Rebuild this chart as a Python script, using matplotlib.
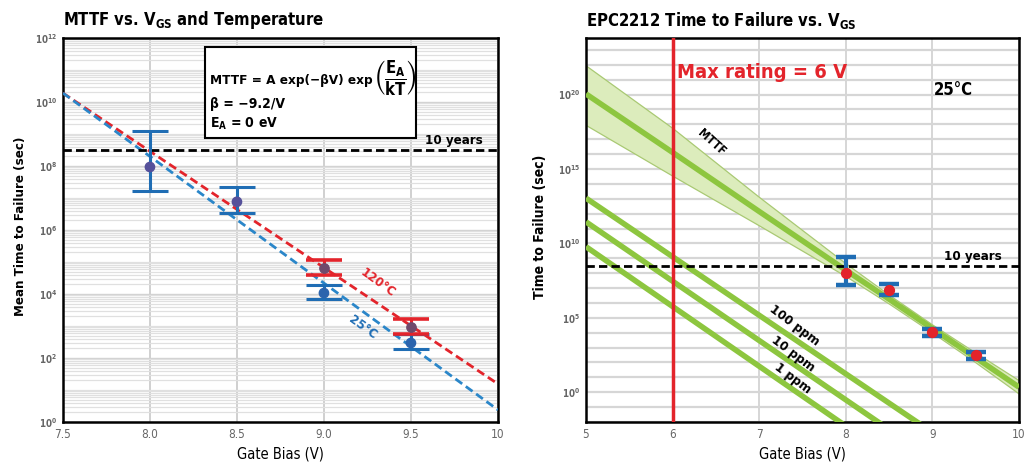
import matplotlib
matplotlib.use("Agg")
import matplotlib.pyplot as plt
from matplotlib.patches import Rectangle
import numpy as np

plt.rcParams['font.family'] = ['DejaVu Sans']
plt.rcParams['font.stretch'] = 'condensed'
plt.rcParams['font.weight'] = 'bold'
plt.rcParams['mathtext.fontset'] = 'custom'
plt.rcParams['mathtext.rm'] = 'DejaVu Sans:weight=bold:stretch=condensed'
plt.rcParams['mathtext.it'] = 'DejaVu Sans:weight=bold:stretch=condensed'
plt.rcParams['mathtext.bf'] = 'DejaVu Sans:weight=bold:stretch=condensed'
plt.rcParams['mathtext.fallback'] = 'stixsans'

# ---------------- data ----------------
# Left panel: MTTF vs VGS and temperature
v_25 = [8.0, 8.5, 9.0, 9.5]
mttf_25 = [9.3e7, 7.6e6, 1.07e4, 2.95e2]
mttf_25_hi = [1.26e9, 2.2e7, 1.9e4, 5.6e2]
mttf_25_lo = [1.6e7, 3.3e6, 6.9e3, 1.9e2]

v_120 = [9.0, 9.5]
mttf_120 = [6.5e4, 9.3e2]
mttf_120_hi = [1.15e5, 1.66e3]
mttf_120_lo = [4.0e4, 5.6e2]

fit_v = [7.5, 10.0]
fit_120 = [1.9e10, 1.55e1]
fit_25 = [1.9e10, 2.4e0]

ten_years = 3.15e8

# Right panel: EPC2212 time to failure
band_v = [5, 6, 7, 8, 8.5, 9, 9.5, 10]
band_center = [1.1e20, 1.3e16, 1.4e12, 1.6e8, 1.8e6, 1.9e4, 2.1e2, 2.2e0]
band_upper = [8.9e21, 5.6e17, 1.3e13, 4.5e8, 3.5e6, 3.5e4, 4.5e2, 6.3e0]
band_lower = [8.9e17, 3.5e14, 1.6e11, 6.3e7, 8.9e5, 1.0e4, 1.0e2, 0.8e0]

ppm_v = [5, 9]
ppm_100 = [1.1e13, 2.0e-3]
ppm_10 = [2.8e11, 3.2e-5]
ppm_1 = [6.0e9, 5.2e-7]

v_epc = [8.0, 8.5, 9.0, 9.5]
ttf_epc = [1.0e8, 7.4e6, 1.1e4, 3.1e2]
ttf_epc_hi = [1.26e9, 2.0e7, 1.75e4, 5.0e2]
ttf_epc_lo = [1.6e7, 3.2e6, 5.9e3, 1.66e2]

max_rating = 6

# ---------------- figure ----------------
fig = plt.figure(figsize=(10.32, 4.72), dpi=100)
axL = fig.add_axes([0.0610, 0.1059, 0.4215, 0.8136])
axR = fig.add_axes([0.5678, 0.1059, 0.4196, 0.8136])

RED = '#e3242b'
BLUE = '#1f6db4'
LBLUE = '#2a86c9'
GREEN = '#8dc63f'
TICKC = '#666666'

for ax in (axL, axR):
    ax.set_yscale('log')
    for s in ax.spines.values():
        s.set_linewidth(1.8)
        s.set_color('black')
    ax.tick_params(which='both', length=0, colors=TICKC, labelsize=8.5, pad=4)
    ax.set_axisbelow(True)

# ----- left -----
axL.set_xlim(7.5, 10)
axL.set_ylim(1e0, 1e12)
axL.set_xticks([7.5, 8.0, 8.5, 9.0, 9.5, 10])
axL.set_xticklabels(['7.5', '8.0', '8.5', '9.0', '9.5', '10'], fontweight='normal')
axL.set_yticks([10.0**k for k in range(0, 13, 2)])
axL.set_yticklabels([r'$10^{%d}$' % k for k in range(0, 13, 2)], fontsize=7)
minor = [m * 10.0**k for k in range(0, 12) for m in range(1, 10)] + [1e12]
axL.set_yticks(minor, minor=True)
axL.set_yticklabels([], minor=True)
axL.grid(True, which='minor', axis='y', color='#e0e0e0', lw=0.9)
axL.grid(True, which='major', axis='y', color='#d2d2d2', lw=1.0)
axL.grid(True, which='major', axis='x', color='#c8c8c8', lw=1.2)

axL.plot(fit_v, fit_120, color=RED, lw=2, dashes=(3, 1.6), zorder=3)
axL.plot(fit_v, fit_25, color=LBLUE, lw=2, dashes=(3, 1.6), zorder=3)
axL.axhline(ten_years, color='black', lw=2, dashes=(3, 1.5), zorder=3)

e25 = [np.array(mttf_25) - np.array(mttf_25_lo), np.array(mttf_25_hi) - np.array(mttf_25)]
axL.errorbar(v_25, mttf_25, yerr=e25, fmt='none', ecolor=BLUE, elinewidth=2.2,
             capsize=13, capthick=2.2, zorder=4)
e120 = [np.array(mttf_120) - np.array(mttf_120_lo), np.array(mttf_120_hi) - np.array(mttf_120)]
axL.errorbar(v_120, mttf_120, yerr=e120, fmt='none', ecolor=RED, elinewidth=2.2,
             capsize=13, capthick=2.6, zorder=4)
axL.scatter(v_25, mttf_25, s=45, c=['#55509a', '#55509a', '#2c64ad', '#2c64ad'], zorder=5)
axL.scatter(v_120, mttf_120, s=45, c='#6f4a6c', zorder=5)

axL.text(9.31, 10**4.35, '120°C', color=RED, fontsize=9.5, rotation=-36,
         ha='center', va='center', zorder=6)
axL.text(9.22, 10**2.95, '25°C', color=BLUE, fontsize=9.5, rotation=-36,
         ha='center', va='center', zorder=6)
axL.text(0.966, 10**8.6, '10 years', transform=axL.get_yaxis_transform(),
         ha='right', va='bottom', fontsize=9.5)

axL.add_patch(Rectangle((0.326, 0.740), 0.485, 0.237, transform=axL.transAxes,
                        facecolor='white', edgecolor='black', lw=1.5, zorder=6))
t1 = axL.text(0.339, 0.890, 'MTTF = A exp(−βV) exp',
              transform=axL.transAxes, fontsize=9.7, ha='left', va='center', zorder=7)
fig.canvas.draw()
bb = t1.get_window_extent(fig.canvas.get_renderer())
x_end = axL.transAxes.inverted().transform((bb.x1, bb.y0))[0]
axL.text(x_end + 0.003, 0.895, r'$\left(\dfrac{E_A}{kT}\right)$',
         transform=axL.transAxes, fontsize=12, ha='left', va='center', zorder=7)
axL.text(0.339, 0.828, r'β = −9.2/V', transform=axL.transAxes, fontsize=10,
         ha='left', va='center', zorder=7)
axL.text(0.339, 0.777, r'E$_\mathrm{A}$ = 0 eV', transform=axL.transAxes, fontsize=10,
         ha='left', va='center', zorder=7)

axL.set_xlabel('Gate Bias (V)', fontsize=10.5, labelpad=4)
fig.text(0.020, 0.52, 'Mean Time to Failure (sec)', rotation=90, ha='center',
         va='center', fontsize=9.5)
fig.text(0.061, 0.957, r'MTTF vs. V$_\mathrm{GS}$ and Temperature', ha='left',
         va='center', fontsize=12)

# ----- right -----
axR.set_xlim(5, 10)
axR.set_ylim(10**-2, 10**23.8)
axR.set_xticks([5, 6, 7, 8, 9, 10])
axR.set_xticklabels(['5', '6', '7', '8', '9', '10'], fontweight='normal')
axR.set_yticks([10.0**k for k in (0, 5, 10, 15, 20)])
axR.set_yticklabels([r'$10^{%d}$' % k for k in (0, 5, 10, 15, 20)], fontsize=7)
axR.set_yticks([10.0**k for k in range(-2, 24)], minor=True)
axR.set_yticklabels([], minor=True)
axR.grid(True, which='both', axis='y', color='#d6d6d6', lw=1.6)
axR.grid(True, which='major', axis='x', color='#d6d6d6', lw=1.4)

axR.fill_between(band_v, band_lower, band_upper, facecolor='#dcecbc',
                 edgecolor='#a9c973', lw=0.9, zorder=2)
axR.plot(band_v, band_center, color=GREEN, lw=4, solid_capstyle='butt', zorder=3)
for vals in (ppm_100, ppm_10, ppm_1):
    axR.plot(ppm_v, vals, color=GREEN, lw=4, solid_capstyle='butt', zorder=3)

axR.axvline(max_rating, color=RED, lw=2.5, zorder=4)
axR.axhline(ten_years, color='black', lw=2, dashes=(3, 1.5), zorder=4)

eepc = [np.array(ttf_epc) - np.array(ttf_epc_lo), np.array(ttf_epc_hi) - np.array(ttf_epc)]
axR.errorbar(v_epc, ttf_epc, yerr=eepc, fmt='none', ecolor=BLUE, elinewidth=3,
             capsize=7, capthick=3.2, zorder=5)
axR.scatter(v_epc, ttf_epc, s=50, c=RED, zorder=6)

axR.text(6.05, 10**21.5, 'Max rating = 6 V', color=RED, fontsize=14.5, ha='left',
         va='center')
axR.text(9.24, 10**20.3, '25°C', fontsize=12, ha='center', va='center')
axR.text(6.45, 10**16.8, 'MTTF', fontsize=8.5, rotation=-42, ha='center', va='center')
axR.text(9.8, 10**8.65, '10 years', ha='right', va='bottom', fontsize=9.5)
axR.text(7.41, 10**4.5, '100 ppm', fontsize=9.5, rotation=-37, ha='center', va='center')
axR.text(7.39, 10**2.6, '10 ppm', fontsize=9.5, rotation=-37, ha='center', va='center')
axR.text(7.39, 10**0.95, '1 ppm', fontsize=9.5, rotation=-37, ha='center', va='center')

axR.set_xlabel('Gate Bias (V)', fontsize=10.5, labelpad=4)
fig.text(0.523, 0.52, 'Time to Failure (sec)', rotation=90, ha='center',
         va='center', fontsize=10)
fig.text(0.568, 0.957, r'EPC2212 Time to Failure vs. V$_\mathrm{GS}$', ha='left',
         va='center', fontsize=12)

fig.savefig('out.png', dpi=100, facecolor='white')
